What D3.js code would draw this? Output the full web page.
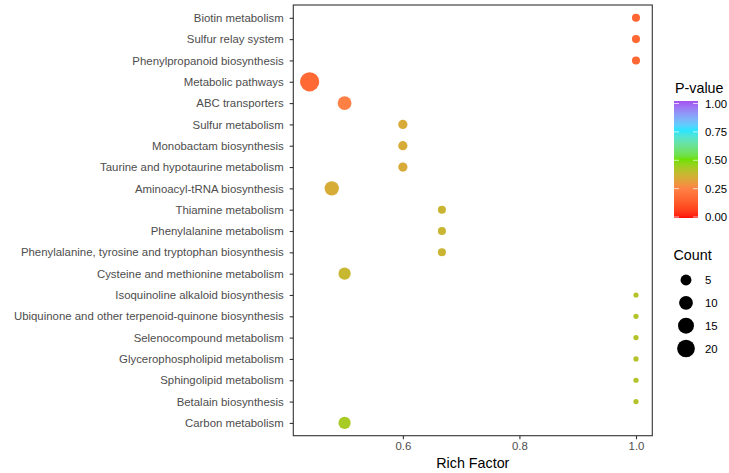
<!DOCTYPE html>
<html>
<head>
<meta charset="utf-8">
<script src="https://cdn.jsdelivr.net/npm/d3@7"></script>
<style>
  html, body { margin: 0; padding: 0; background: #fff; }
  svg { display: block; font-family: "Liberation Sans", Arial, Helvetica, sans-serif; }
</style>
</head>
<body>
<svg id="chart" width="729" height="473"></svg>
<script>
// KEGG enrichment bubble data (top to bottom)
const pathways = [
  "Biotin metabolism",
  "Sulfur relay system",
  "Phenylpropanoid biosynthesis",
  "Metabolic pathways",
  "ABC transporters",
  "Sulfur metabolism",
  "Monobactam biosynthesis",
  "Taurine and hypotaurine metabolism",
  "Aminoacyl-tRNA biosynthesis",
  "Thiamine metabolism",
  "Phenylalanine metabolism",
  "Phenylalanine, tyrosine and tryptophan biosynthesis",
  "Cysteine and methionine metabolism",
  "Isoquinoline alkaloid biosynthesis",
  "Ubiquinone and other terpenoid-quinone biosynthesis",
  "Selenocompound metabolism",
  "Glycerophospholipid metabolism",
  "Sphingolipid metabolism",
  "Betalain biosynthesis",
  "Carbon metabolism"
];
const richFactor = [1.0, 1.0, 1.0, 0.44, 0.5, 0.6, 0.6, 0.6, 0.478, 0.667, 0.667, 0.667, 0.5, 1.0, 1.0, 1.0, 1.0, 1.0, 1.0, 0.5];
const geneCount  = [2, 2, 2, 25, 10, 3, 3, 3, 11, 2, 2, 2, 7, 1, 1, 1, 1, 1, 1, 7];
const pValue     = [0.17, 0.17, 0.17, 0.175, 0.25, 0.34, 0.34, 0.34, 0.345, 0.37, 0.37, 0.37, 0.375, 0.41, 0.41, 0.41, 0.41, 0.41, 0.41, 0.43];

const xTicks = [0.6, 0.8, 1.0];
const pTicks = [0, 0.25, 0.5, 0.75, 1];
const countBreaks = [5, 10, 15, 20];
const gradientColors = ["#FF0A0A", "#FF8045", "#6EE000", "#1AE6FF", "#A650F0"];

const data = pathways.map((name, i) => ({
  name, rich: richFactor[i], count: geneCount[i], p: pValue[i]
}));

const svg = d3.select("#chart");
const panel = { left: 293.3, right: 652.3, top: 5, bottom: 435.7 };

// x scale with 5% expansion on both sides
const xExt = d3.extent(richFactor);
const pad = (xExt[1] - xExt[0]) * 0.05;
const x = d3.scaleLinear()
  .domain([xExt[0] - pad, xExt[1] + pad])
  .range([panel.left, panel.right]);

const y = d3.scalePoint()
  .domain(pathways)
  .range([panel.top, panel.bottom])
  .padding(0.6);

const color = d3.scaleLinear()
  .domain([0, 0.25, 0.5, 0.75, 1])
  .range(gradientColors)
  .interpolate(d3.interpolateLab);

const cMin = 1, cMax = d3.max(geneCount);
const sizeFrac = d3.scaleSqrt().domain([0, cMax - cMin]).range([0, 1]);
const radiusLin = d3.scaleLinear().domain([0, 1]).range([2.6, 9.63]);
const radius = c => radiusLin(sizeFrac(Math.max(0, c - cMin)));

// panel background
svg.append("rect")
  .attr("x", panel.left).attr("y", panel.top)
  .attr("width", panel.right - panel.left)
  .attr("height", panel.bottom - panel.top)
  .attr("fill", "#fff");

// points
svg.append("g")
  .selectAll("circle")
  .data(data)
  .join("circle")
  .attr("cx", d => x(d.rich))
  .attr("cy", d => y(d.name))
  .attr("r", d => radius(d.count))
  .attr("fill", d => color(d.p));

// panel border
svg.append("rect")
  .attr("x", panel.left).attr("y", panel.top)
  .attr("width", panel.right - panel.left)
  .attr("height", panel.bottom - panel.top)
  .attr("fill", "none")
  .attr("stroke", "#333")
  .attr("stroke-width", 1.1);

// y axis
const yAxis = svg.append("g")
  .attr("transform", `translate(${panel.left},0)`)
  .call(d3.axisLeft(y).tickSize(3.6).tickPadding(6));
yAxis.select(".domain").remove();
yAxis.selectAll(".tick line").attr("stroke", "#333").attr("stroke-width", 1.1);
yAxis.selectAll(".tick text")
  .attr("fill", "#4D4D4D")
  .style("font-size", "11.4px")
  .style("font-family", "'Liberation Sans', Arial, sans-serif");

// x axis
const xAxis = svg.append("g")
  .attr("transform", `translate(0,${panel.bottom})`)
  .call(d3.axisBottom(x).tickValues(xTicks).tickFormat(d3.format(".1f")).tickSize(3.6).tickPadding(3));
xAxis.select(".domain").remove();
xAxis.selectAll(".tick line").attr("stroke", "#333").attr("stroke-width", 1.1);
xAxis.selectAll(".tick text")
  .attr("fill", "#4D4D4D")
  .style("font-size", "11.4px")
  .style("font-family", "'Liberation Sans', Arial, sans-serif");

svg.append("text")
  .attr("x", (panel.left + panel.right) / 2)
  .attr("y", 468)
  .attr("text-anchor", "middle")
  .style("font-size", "14.3px")
  .attr("fill", "#000")
  .text("Rich Factor");

// P-value colour bar legend
const bar = { x: 674, y: 101, w: 24, h: 117 };
const defs = svg.append("defs");
const grad = defs.append("linearGradient")
  .attr("id", "pgrad")
  .attr("x1", 0).attr("y1", 1).attr("x2", 0).attr("y2", 0);
d3.range(0, 1.0001, 0.02).forEach(t => {
  grad.append("stop").attr("offset", t).attr("stop-color", color(t));
});

svg.append("text")
  .attr("x", 675).attr("y", 93)
  .style("font-size", "14.3px")
  .attr("fill", "#000")
  .text("P-value");

svg.append("rect")
  .attr("x", bar.x).attr("y", bar.y)
  .attr("width", bar.w).attr("height", bar.h)
  .attr("fill", "url(#pgrad)");

const pY = d3.scaleLinear().domain([0, 1]).range([217, 103.5]);
const pt = svg.append("g");
pTicks.forEach(v => {
  pt.append("line")
    .attr("x1", bar.x).attr("x2", bar.x + 5)
    .attr("y1", pY(v)).attr("y2", pY(v))
    .attr("stroke", "#fff").attr("stroke-opacity", 0.7).attr("stroke-width", 1);
  pt.append("line")
    .attr("x1", bar.x + bar.w - 5).attr("x2", bar.x + bar.w)
    .attr("y1", pY(v)).attr("y2", pY(v))
    .attr("stroke", "#fff").attr("stroke-opacity", 0.7).attr("stroke-width", 1);
  pt.append("text")
    .attr("x", 705).attr("y", pY(v))
    .attr("dy", "0.36em")
    .style("font-size", "11.4px")
    .attr("fill", "#000")
    .text(d3.format(".2f")(v));
});

// Count size legend
svg.append("text")
  .attr("x", 673.5).attr("y", 260)
  .style("font-size", "14.3px")
  .attr("fill", "#000")
  .text("Count");

const countY = d3.scalePoint().domain(countBreaks).range([280, 348.5]);
const cl = svg.append("g");
countBreaks.forEach(c => {
  cl.append("circle")
    .attr("cx", 686).attr("cy", countY(c))
    .attr("r", radius(c))
    .attr("fill", "#000");
  cl.append("text")
    .attr("x", 705).attr("y", countY(c))
    .attr("dy", "0.36em")
    .style("font-size", "11.4px")
    .attr("fill", "#000")
    .text(c);
});
</script>
</body>
</html>
